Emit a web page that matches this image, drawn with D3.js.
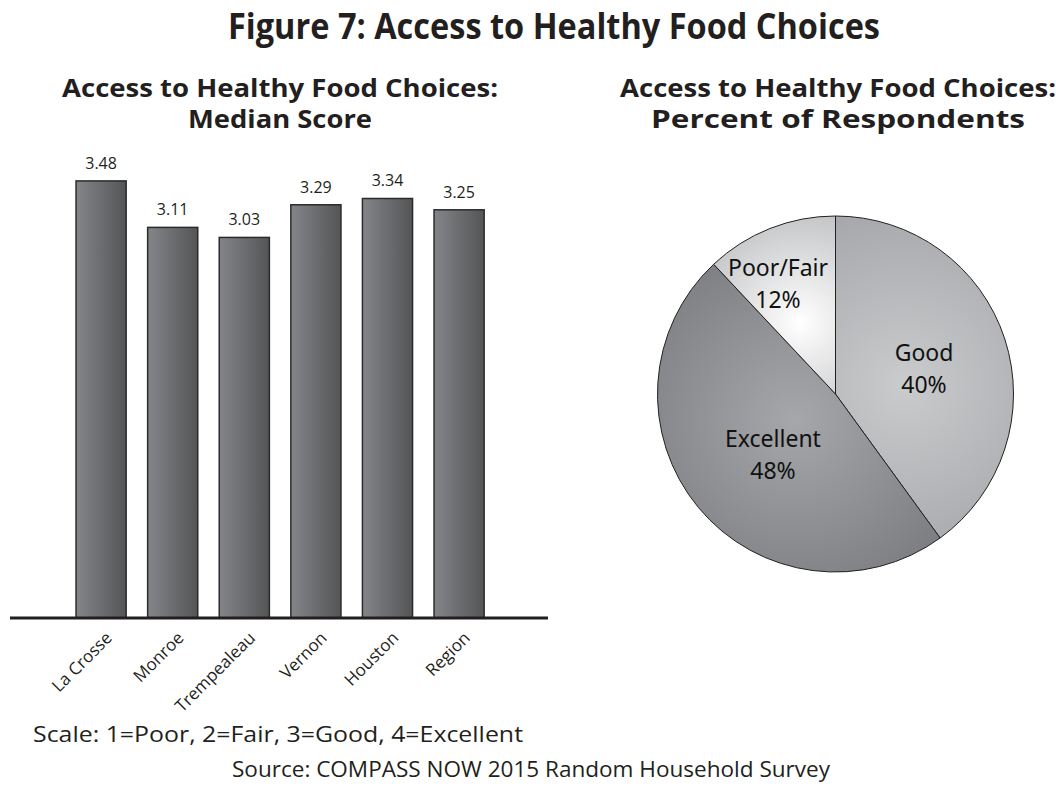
<!DOCTYPE html>
<html><head><meta charset="utf-8">
<script src="https://cdn.jsdelivr.net/npm/d3@7"></script>
<style>
html,body{margin:0;padding:0;background:#fff;}
svg{display:block;}
</style></head>
<body>
<svg id="c" width="1056" height="789"></svg>
<script>
const categories = ["La Crosse","Monroe","Trempealeau","Vernon","Houston","Region"];
const medianScores = [3.48,3.11,3.03,3.29,3.34,3.25];
const pieLabels = ["Good","Excellent","Poor/Fair"];
const piePercents = [40,48,12];

const svg = d3.select("#c");
const ink = "#231f20";
const titleFont = "'Open Sans', 'Noto Sans', sans-serif";
const pieFont = "'Noto Sans', 'Open Sans', sans-serif";

function fitText(sel, w){ sel.attr("textLength", w).attr("lengthAdjust","spacingAndGlyphs"); return sel; }

// Title
fitText(svg.append("text").attr("x",554).attr("y",39).attr("text-anchor","middle")
  .attr("font-family",titleFont).attr("font-weight",700).attr("font-size",35).attr("fill",ink)
  .text("Figure 7: Access to Healthy Food Choices"), 652);

// Subtitles
const subs = [
  {x:280, lines:[["Access to Healthy Food Choices:",436],["Median Score",184]]},
  {x:838, lines:[["Access to Healthy Food Choices:",436],["Percent of Respondents",374]]}
];
subs.forEach(s=>{
  s.lines.forEach((l,i)=>{
    fitText(svg.append("text").attr("x",s.x).attr("y",97+i*31).attr("text-anchor","middle")
      .attr("font-family",titleFont).attr("font-weight",700).attr("font-size",25).attr("fill",ink)
      .text(l[0]), l[1]);
  });
});

// Defs
const defs = svg.append("defs");
const bg = defs.append("linearGradient").attr("id","barGrad").attr("x1","0%").attr("x2","100%").attr("y1","0%").attr("y2","0%");
bg.append("stop").attr("offset","0%").attr("stop-color","#838588");
bg.append("stop").attr("offset","100%").attr("stop-color","#545557");

// Bar chart
const baseY = 618;
const x = d3.scaleBand().domain(categories).range([65.3, 494.9]).paddingInner(0.3).paddingOuter(0.15);
const y = d3.scaleLinear().domain([0,4]).range([baseY, baseY - 4*125.6]);

const bars = svg.append("g");
bars.selectAll("rect").data(categories).join("rect")
  .attr("x", d=>x(d)).attr("width", x.bandwidth())
  .attr("y", (d,i)=>y(medianScores[i])).attr("height",(d,i)=>baseY - y(medianScores[i]))
  .attr("fill","url(#barGrad)").attr("stroke","#2b2b2b").attr("stroke-width",1.5);

bars.selectAll("text.val").data(categories).join("text").attr("class","val")
  .attr("x", d=>x(d)+x.bandwidth()/2).attr("y",(d,i)=>y(medianScores[i])-12)
  .attr("text-anchor","middle").attr("font-family",titleFont).attr("font-size",16).attr("fill",ink)
  .text((d,i)=>medianScores[i].toFixed(2));

// axis
const xAxis = d3.axisBottom(x).tickSize(0).tickPadding(0);
const ax = svg.append("g").attr("transform",`translate(0,${baseY})`).call(xAxis);
ax.select(".domain").remove();
svg.append("line").attr("x1",10).attr("x2",548).attr("y1",baseY).attr("y2",baseY)
  .attr("stroke",ink).attr("stroke-width",3);
ax.selectAll(".tick text")
  .attr("font-family",titleFont).attr("font-size",17).attr("fill",ink)
  .attr("text-anchor","end").attr("dy",null).attr("y",0).attr("x",0)
  .attr("transform","translate(12,21) rotate(-45)");

// Scale / Source
svg.append("text").attr("x",33).attr("y",742).attr("font-family",titleFont).attr("font-size",21).attr("fill",ink)
  .attr("textLength",490).attr("lengthAdjust","spacingAndGlyphs")
  .text("Scale: 1=Poor, 2=Fair, 3=Good, 4=Excellent");
svg.append("text").attr("x",531).attr("y",777).attr("text-anchor","middle").attr("font-family",titleFont).attr("font-size",21).attr("fill",ink)
  .attr("textLength",598).attr("lengthAdjust","spacingAndGlyphs")
  .text("Source: COMPASS NOW 2015 Random Household Survey");

// Pie
const cx = 835.5, cy = 394, R = 178;
const pieColors = [
  ["#cacbcd","#a4a6a9", 905, 385],
  ["#a5a7aa","#7b7d80", 795, 420],
  ["#ffffff","#c4c5c7", 800, 322]
];
pieColors.forEach((c,i)=>{
  const g = defs.append("radialGradient").attr("id","pg"+i).attr("gradientUnits","userSpaceOnUse")
    .attr("cx",c[2]-cx).attr("cy",c[3]-cy).attr("r",i===2?110:190);
  g.append("stop").attr("offset","0%").attr("stop-color",c[0]);
  g.append("stop").attr("offset","100%").attr("stop-color",c[1]);
});
const pie = d3.pie().sort(null).value(d=>d)(piePercents);
const arc = d3.arc().innerRadius(0).outerRadius(R);
const pg = svg.append("g").attr("transform",`translate(${cx},${cy})`);
pg.selectAll("path").data(pie).join("path")
  .attr("d",arc).attr("fill",(d,i)=>`url(#pg${i})`).attr("stroke","#231f20").attr("stroke-width",1);

const labelPos = [[88.5,-33],[-62.5,53],[-57.5,-118]];
pg.selectAll("g.lbl").data(pie).join("g").attr("class","lbl")
  .attr("transform",(d,i)=>`translate(${labelPos[i][0]},${labelPos[i][1]})`)
  .each(function(d,i){
    const g = d3.select(this);
    g.append("text").attr("text-anchor","middle").attr("y",0).attr("font-family",pieFont).attr("font-size",23).attr("fill","#111")
      .text(pieLabels[i]);
    g.append("text").attr("text-anchor","middle").attr("y",32).attr("font-family",pieFont).attr("font-size",23).attr("fill","#111")
      .text(piePercents[i]+"%");
  });
</script>
</body></html>
